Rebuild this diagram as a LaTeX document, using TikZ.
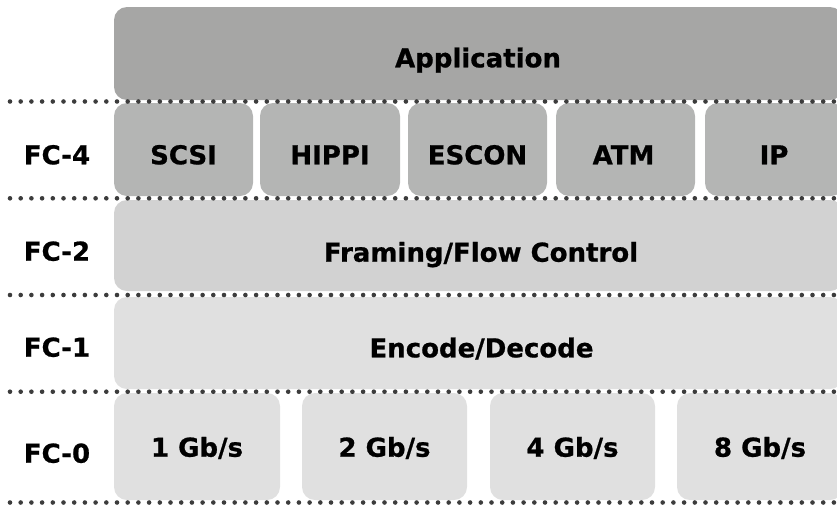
\documentclass[tikz,border=0pt]{standalone}
\usepackage{fontspec}
\setmainfont{DejaVu Sans}
\newfontfamily\lblfont[FakeBold=0.8]{DejaVu Sans Bold}
\definecolor{appc}{HTML}{A6A6A5}
\definecolor{upc}{HTML}{B4B5B4}
\definecolor{fctwo}{HTML}{D2D2D2}
\definecolor{lowc}{HTML}{E0E0E0}
\definecolor{dotc}{HTML}{3C3C3C}
\begin{document}
\begin{tikzpicture}[x=1pt,y=-1pt,
  lbl/.style={font=\lblfont\fontsize{26}{30}\selectfont, anchor=base, inner sep=0pt, text=black},
  layer/.style={rounded corners=13pt},
  dotmark/.style={fill=dotc}]
\useasboundingbox (0,0) rectangle (837,504);
\clip (0,0) rectangle (837,504);
% layers
\fill[layer, appc] (114,7) rectangle (843,100);
\foreach \a/\b in {114/253,260/400,408/547,556/695,705/844}
  \fill[layer, upc] (\a,103) rectangle (\b,196);
\fill[layer, fctwo] (114,200) rectangle (843,291);
\fill[layer, lowc] (114,297) rectangle (843,389);
\foreach \a/\b in {114/280,302/467,490/655,677/843}
  \fill[layer, lowc] (\a,393) rectangle (\b,500);
% dotted separators
\foreach \y in {101.5,198.3,295,391.7,502.5}
  \foreach \k in {0,...,78}
    \fill[dotmark] ({10+10.7*\k},\y) circle (2.3pt);
% texts
\node[lbl] (app) at (478,67.3) {Application};
\node[lbl] (fc4) at (57,164.3) {FC-4};
\node[lbl] (scsi) at (183.5,164.3) {SCSI};
\node[lbl] (hippi) at (330,164.3) {HIPPI};
\node[lbl] (escon) at (477.5,164.3) {ESCON};
\node[lbl] (atm) at (623.5,164.3) {ATM};
\node[lbl] (ip) at (774,164.3) {IP};
\node[lbl] (fc2) at (57,260.7) {FC-2};
\node[lbl] (framing) at (481,261.7) {Framing/Flow Control};
\node[lbl] (fc1) at (57,356.7) {FC-1};
\node[lbl] (encode) at (481.5,357.3) {Encode/Decode};
\node[lbl] (fc0) at (57,462.7) {FC-0};
\node[lbl] (g1) at (197,456.7) {1 Gb/s};
\node[lbl] (g2) at (384.5,456.7) {2 Gb/s};
\node[lbl] (g4) at (572.5,456.7) {4 Gb/s};
\node[lbl] (g8) at (760,456.7) {8 Gb/s};
\end{tikzpicture}
\end{document}
